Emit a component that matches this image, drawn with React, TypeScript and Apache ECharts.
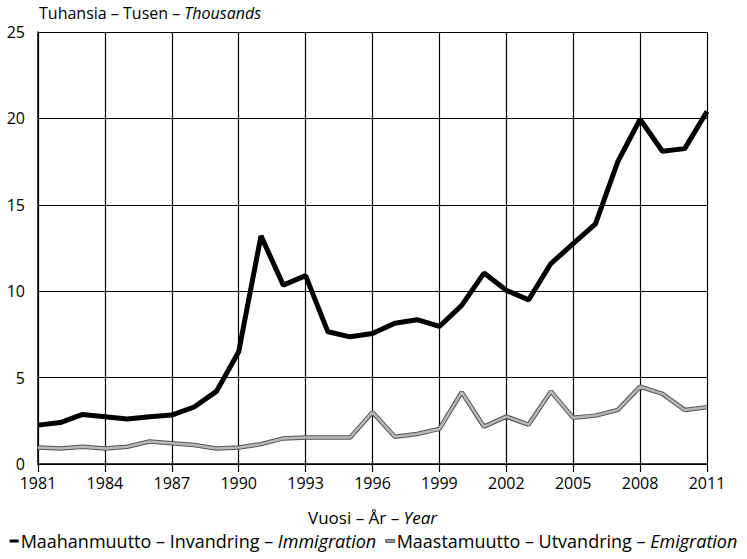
import React, { useEffect, useRef } from "react";
import * as echarts from "echarts";

const years: string[] = [];
for (let y = 1981; y <= 2011; y++) years.push(String(y));

const immigration = [
  2.25, 2.4, 2.87, 2.74, 2.6, 2.74, 2.83, 3.3, 4.2, 6.5,
  13.2, 10.35, 10.9, 7.65, 7.36, 7.55, 8.15, 8.35, 7.96, 9.18,
  11.05, 10.05, 9.5, 11.6, 12.75, 13.9, 17.5, 19.95, 18.1, 18.25, 20.4,
];

const emigration = [
  0.96, 0.9, 1.0, 0.9, 1.0, 1.3, 1.2, 1.1, 0.9, 0.96,
  1.15, 1.48, 1.54, 1.54, 1.54, 3.0, 1.58, 1.74, 2.03, 4.15,
  2.16, 2.74, 2.28, 4.2, 2.67, 2.8, 3.13, 4.48, 4.06, 3.13, 3.28,
];

const yTicks = [0, 5, 10, 15, 20, 25];

const FONT = "Open Sans";

export default function App() {
  const ref = useRef<HTMLDivElement>(null);
  useEffect(() => {
    if (!ref.current) return;
    const chart = echarts.init(ref.current, undefined, { renderer: "svg" });
    const legendNames: Record<string, [string, string]> = {
      Immigration: ["Maahanmuutto – Invandring – ", "Immigration"],
      Emigration: ["Maastamuutto – Utvandring – ", "Emigration"],
    };
    chart.setOption({
      animation: false,
      backgroundColor: "#ffffff",
      textStyle: { fontFamily: FONT },
      grid: { left: 38, right: 40, top: 32, bottom: 95, containLabel: false },
      graphic: [
        {
          type: "text",
          left: 39,
          top: 5,
          style: {
            text: "{a|Tuhansia – Tusen – }{b|Thousands}",
            rich: {
              a: { fontFamily: FONT, fontSize: 16, fill: "#000" },
              b: { fontFamily: FONT, fontSize: 16, fill: "#000", fontStyle: "italic" },
            },
          },
        },
      ],
      xAxis: {
        type: "category",
        data: years,
        boundaryGap: false,
        name: "{a|Vuosi – År – }{b|Year}",
        nameLocation: "middle",
        nameGap: 45,
        nameTextStyle: {
          rich: {
            a: { fontFamily: FONT, fontSize: 17, color: "#000" },
            b: { fontFamily: FONT, fontSize: 17, color: "#000", fontStyle: "italic" },
          },
        },
        axisLine: { show: true, lineStyle: { color: "#000", width: 1.5 } },
        axisTick: { show: true, interval: 2, length: 8, lineStyle: { color: "#000", width: 1.2 } },
        axisLabel: { interval: 2, color: "#000", fontSize: 16, lineHeight: 14, fontFamily: FONT, margin: 12 },
        splitLine: { show: true, interval: 2, lineStyle: { color: "#000", width: 1.2 } },
      },
      yAxis: {
        type: "value",
        min: 0,
        max: 25,
        interval: 5,
        axisLine: { show: true, lineStyle: { color: "#000", width: 1.5 } },
        axisTick: { show: false },
        axisLabel: {
          color: "#000",
          fontSize: 16,
          lineHeight: 14,
          fontFamily: FONT,
          margin: 13,
          padding: [0, 0, 6, 0],
          formatter: (v: number) => (yTicks.includes(v) ? String(v) : ""),
        },
        splitLine: { show: true, lineStyle: { color: "#000", width: 1.2 } },
      },
      legend: {
        data: [
          { name: "Immigration", itemStyle: { color: "#000" } },
          { name: "Emigration", itemStyle: { color: "#999", borderColor: "#444", borderWidth: 0.8 } },
        ],
        left: "center",
        bottom: 9,
        padding: 0,
        width: 760,
        icon: "rect",
        itemWidth: 9,
        itemHeight: 3,
        itemGap: 9,
        formatter: (name: string) => {
          const p = legendNames[name];
          return `{a|${p[0]}}{b|${p[1]}}`;
        },
        textStyle: {
          padding: [0, 0, 0, -3],
          rich: {
            a: { fontFamily: FONT, fontSize: 18, color: "#000" },
            b: { fontFamily: FONT, fontSize: 18, color: "#000", fontStyle: "italic" },
          },
        },
      },
      series: [
        {
          name: "EmigrationOutline",
          type: "line",
          data: emigration,
          showSymbol: false,
          symbol: "none",
          lineStyle: { color: "#555", width: 4.5 },
          silent: true,
          z: 2,
        },
        {
          name: "Emigration",
          type: "line",
          data: emigration,
          showSymbol: false,
          symbol: "none",
          lineStyle: { color: "#b8b8b8", width: 2.5 },
          itemStyle: { color: "#999" },
          z: 3,
        },
        {
          name: "Immigration",
          type: "line",
          data: immigration,
          showSymbol: false,
          symbol: "none",
          lineStyle: { color: "#000", width: 5 },
          itemStyle: { color: "#000" },
          z: 4,
        },
      ],
    });
    return () => chart.dispose();
  }, []);
  return <div ref={ref} style={{ width: 747, height: 559, position: "absolute", left: 0, top: 0 }} />;
}
